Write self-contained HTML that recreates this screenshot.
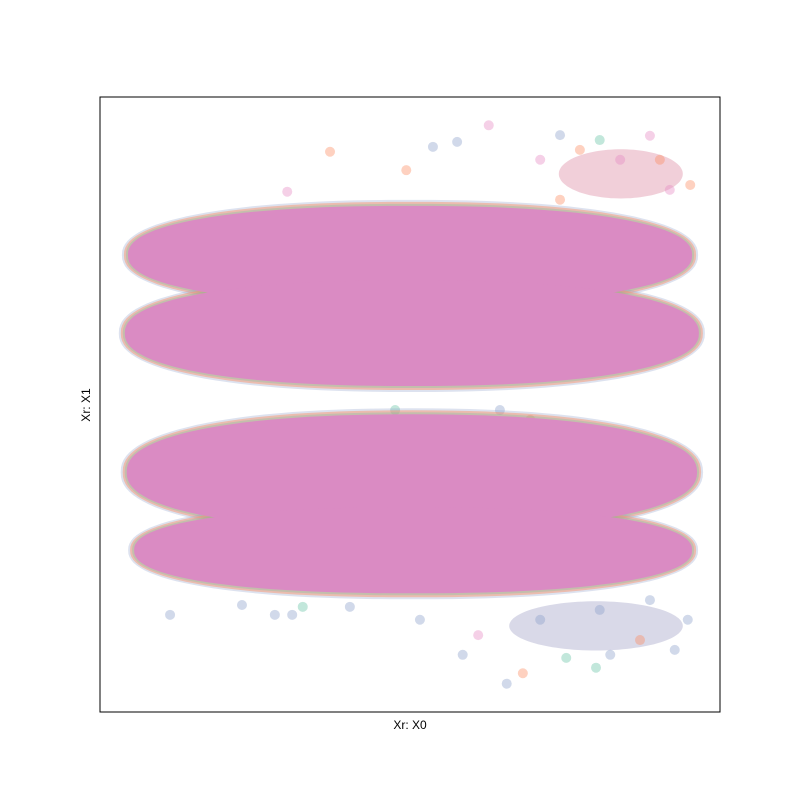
<!DOCTYPE html>
<html><head><meta charset="utf-8"><style>
body{margin:0;background:#fff;}
svg{display:block;font-family:"Liberation Sans",sans-serif;}
</style></head><body>
<svg id="chart" width="800" height="800" viewBox="0 0 800 800">
<rect x="0" y="0" width="800" height="800" fill="#fff"/>
<g id="marks"></g>
<rect x="100" y="97" width="620" height="615" fill="none" stroke="#000" stroke-width="1"/>
<text x="410" y="729" font-size="12" text-anchor="middle">Xr: X0</text>
<text x="90" y="405" font-size="12" text-anchor="middle" transform="rotate(-90 90 405)">Xr: X1</text>
</svg>
<script>
// cluster data (data units 0-100)
const clusterCx = [50, 50.3, 50.3, 50.5];
const clusterCy = [74.3, 61.6, 39.0, 26.3];
const clusterRx = [45.5, 46.3, 46.0, 45.0];
const clusterRy = [8.0, 8.6, 9.4, 7.0];
const clusterNames = ['cluster-upper-1','cluster-upper-2','cluster-lower-1','cluster-lower-2'];
// spray regions
const sprayCx = [84, 80];
const sprayCy = [87.5, 14];
const sprayRx = [10, 14];
const sprayRy = [4, 4];
// outlier points
const ptX = [37.1,62.7,57.6,53.7,49.4,30.2,11.3,58.5,65.6,68.2,22.9,28.2,31.0,32.7,40.3,51.6,74.2,88.7,80.6,88.7,94.8,80.0,75.2,61.0,47.6,64.5,69.4,77.4,83.9,90.3,71.0,74.2,95.2,91.9,80.6,87.1,82.3,71.0,92.7];
const ptY = [91.1,95.4,92.7,91.9,88.1,84.6,15.8,9.3,4.6,6.3,17.4,15.8,15.8,17.1,17.1,15.0,93.8,93.7,93.0,18.2,15.0,7.2,8.8,12.5,49.1,49.1,47.5,91.4,89.8,89.8,89.8,83.3,85.7,84.9,16.6,11.7,9.3,15.0,10.1];
const ptC = [1,3,2,2,1,3,2,2,2,1,2,2,2,0,2,2,2,3,0,2,2,0,0,3,0,2,1,1,3,1,3,1,1,3,2,1,2,2,2];
const colors = ['#66c2a5','#fc8d62','#8da0cb','#e78ac3'];

const xs = v => 100 + v*6.2;
const ys = v => 712 - v*6.15;
const g = document.getElementById('marks');
const NS = 'http://www.w3.org/2000/svg';

function blobPath(cx, cy, rx, ry, n){
  let d='';
  for (let k=0;k<=120;k++){
    const t=k/120*2*Math.PI, c=Math.cos(t), s=Math.sin(t);
    const x=cx+rx*Math.sign(c)*Math.pow(Math.abs(c),2/n);
    const y=cy+ry*Math.sign(s)*Math.pow(Math.abs(s),2/n);
    d+=(k?'L':'M')+x.toFixed(1)+' '+y.toFixed(1);
  }
  return d+'Z';
}

// sprays
for (let i=0;i<sprayCx.length;i++){
  const e=document.createElementNS(NS,'path');
  
  
  e.setAttribute('d',blobPath(xs(sprayCx[i]),ys(sprayCy[i]),sprayRx[i]*6.2,sprayRy[i]*6.15,2));
  e.setAttribute('fill',i===0?'#e4a0b4':'#b4b4d2');e.setAttribute('opacity','0.5');
  g.appendChild(e);
}
// outlier points
for (let i=0;i<ptX.length;i++){
  const c=document.createElementNS(NS,'circle');
  
  
  c.setAttribute('cx',xs(ptX[i]));c.setAttribute('cy',ys(ptY[i]));c.setAttribute('r',5);
  c.setAttribute('fill',colors[ptC[i]]);c.setAttribute('opacity','0.4');
  g.appendChild(c);
}
// clusters: fringe layers then pink core
const fringe = [[2,6,0.3],[1,4,0.45],[0,2,0.3]];
for (let i=0;i<clusterCx.length;i++){
  fringe.forEach(f=>{
    const e=document.createElementNS(NS,'path');
    
    
    e.setAttribute('d',blobPath(xs(clusterCx[i]),ys(clusterCy[i]),clusterRx[i]*6.2+f[1],clusterRy[i]*6.15+f[1],2.3));
    e.setAttribute('fill',colors[f[0]]);e.setAttribute('opacity',f[2]);
    g.appendChild(e);
  });
}
for (let i=0;i<clusterCx.length;i++){
  const e=document.createElementNS(NS,'path');
  
  
  e.setAttribute('d',blobPath(xs(clusterCx[i]),ys(clusterCy[i]),clusterRx[i]*6.2,clusterRy[i]*6.15,2.3));
  e.setAttribute('fill','#da8bc3');
  g.appendChild(e);
}
</script>
</body></html>
